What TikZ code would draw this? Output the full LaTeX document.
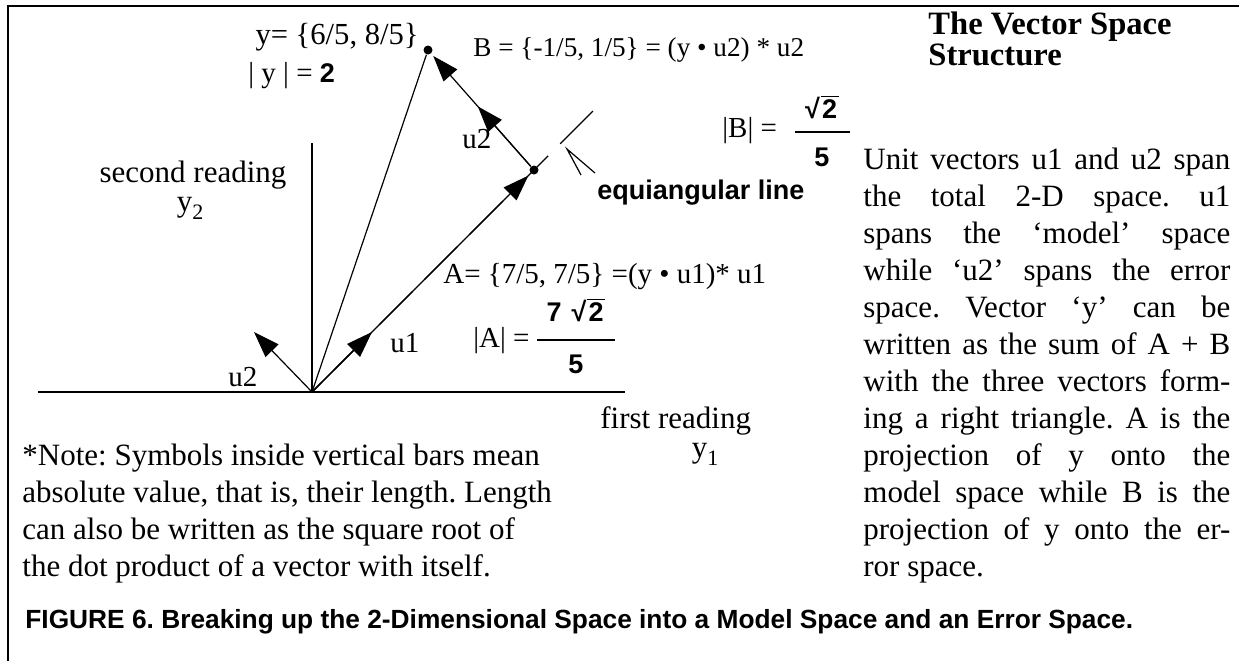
\documentclass[tikz,border=0pt]{standalone}
\usepackage{fontspec}
\setmainfont{Liberation Serif}
\setsansfont{Liberation Sans}
\usetikzlibrary{arrows.meta,calc}
\newcommand\jline[1]{\hbox to 183.5pt{#1}}
\newcommand\rtwo{√\kern0.3pt$\overline{\hbox{\kern0.8pt 2\kern0.8pt}}$}
\newcommand\sbf{\fontsize{13.5}{15}\sffamily\bfseries\selectfont}
\begin{document}
\frenchspacing
\begin{tikzpicture}[x=0.5pt,y=-0.5pt,
  lab/.style={inner sep=0pt, anchor=base west, font=\fontsize{14.5}{17}\selectfont},
  body/.style={inner sep=0pt, anchor=base west, font=\fontsize{15.5}{18.5}\selectfont},
  sbold/.style={inner sep=0pt, font=\sbf},
  vec/.style={line width=0.6pt, -{Triangle[length=13pt,width=9pt]}},
  thinline/.style={line width=0.6pt},
  axisline/.style={line width=1pt},
  frameline/.style={line width=1.2pt},
  dotnode/.style={circle, fill=black, inner sep=0pt, minimum size=4.5pt}]
\useasboundingbox (0,0) rectangle (1239,661);
% frame
\coordinate (FBL) at (8,661);
\coordinate (FTL) at (8,6);
\coordinate (FTR) at (1239,6);
\draw[frameline] (FBL) -- (FTL) -- (FTR);
% key points
\coordinate (O) at (312,392);
\node[dotnode] (Y) at (428,50) {};
\node[dotnode] (A) at (534,170) {};
\coordinate (E) at (593,111);
\coordinate (Xs) at (38,392);
\coordinate (Xe) at (625,392);
\coordinate (Yt) at (312,143);
\coordinate (U1) at (372,332);
\coordinate (U2) at (254,332);
% axes
\draw[axisline] (Xs) -- (Xe);
\draw[axisline] (Yt) -- (O);
% y vector
\draw[thinline] (O) -- (Y);
% equiangular line
\draw[thinline, dash pattern=on 23.5pt off 8.5pt, dash phase=16.5pt] (O) -- (E);
% vectors
\draw[vec, shorten >=1.5pt] (O) -- (A);
\draw[vec] (O) -- (U1);
\draw[vec] (O) -- (U2);
\draw[vec, shorten >=1.5pt] (A) -- (Y);
\draw[vec] (A) -- ($(A)!0.53!(Y)$);
% open arrow pointing at equiangular line
\coordinate (T) at (567,149);
\coordinate (Ta) at (581,175);
\coordinate (Tb) at (595,173);
\draw[thinline] (Ta) -- (T) -- (Tb);
% labels
\node[lab, anchor=base east, font=\fontsize{15.3}{17}\selectfont] (ytxt) at (419,44) {y= \{6/5, 8/5\}};
\node[lab] (ylen) at (248,82) {| y | = {\sbf 2}};
\node[lab, font=\fontsize{13.6}{16}\selectfont] (btxt) at (473,56) {B = \{-1/5, 1/5\} = (y • u2) * u2};
\node[lab] (u2m) at (462,148) {u2};
\node[lab] (blen) at (722,137) {|B| =};
\node[sbold, anchor=base] (bnum) at (822,118) {\rtwo};
\coordinate (BbL) at (795,132);
\coordinate (BbR) at (850,132);
\draw[line width=0.8pt] (BbL) -- (BbR);
\node[sbold, anchor=base] (bden) at (822,166) {5};
\node[sbold, anchor=base west] (eq) at (597,199) {equiangular line};
\node[body, anchor=base] (sr) at (193,182) {second reading};
\node[body, anchor=base] (y2) at (190,211) {y\raisebox{-4pt}{\fontsize{11}{11}\selectfont 2}};
\node[lab] (atxt) at (443,283) {A= \{7/5, 7/5\} =(y • u1)* u1};
\node[lab] (alen) at (473,347) {|A| =};
\node[sbold, anchor=base] (anum) at (576,321) {7\hspace{5pt}\rtwo};
\coordinate (AbL) at (537,340);
\coordinate (AbR) at (615,340);
\draw[line width=0.8pt] (AbL) -- (AbR);
\node[sbold, anchor=base] (aden) at (576,373) {5};
\node[lab] (u1l) at (390,352) {u1};
\node[lab] (u2l) at (228,386) {u2};
\node[body, anchor=base west] (fr) at (600,428) {first reading};
\node[body, anchor=base] (y1) at (705,457) {y\raisebox{-4pt}{\fontsize{11}{11}\selectfont 1}};
% title
\node[inner sep=0pt, anchor=base west, font=\fontsize{16.3}{16.5}\bfseries\selectfont] (title) at (928,34)
  {\vtop{\baselineskip=15.5pt\hbox{The Vector Space}\hbox{Structure}}};
% right column text
\node[body] (para) at (863,169) {\vtop{\baselineskip=18.5pt
  \jline{Unit vectors u1 and u2 span}
  \jline{the total 2-D space. u1}
  \jline{spans the ‘model’ space}
  \jline{while ‘u2’ spans the error}
  \jline{space. Vector ‘y’ can be}
  \jline{written as the sum of A + B}
  \jline{with the three vectors form-}
  \jline{ing a right triangle. A is the}
  \jline{projection of y onto the}
  \jline{model space while B is the}
  \jline{projection of y onto the er-}
  \hbox{ror space.}}};
% note
\node[body] (note) at (22,465) {\vtop{\baselineskip=18.5pt
  \hbox{*Note: Symbols inside vertical bars mean}
  \hbox{absolute value, that is, their length. Length}
  \hbox{can also be written as the square root of}
  \hbox{the dot product of a vector with itself.}}};
% caption
\node[inner sep=0pt, anchor=base west, font=\fontsize{13.15}{15}\sffamily\bfseries\selectfont] (cap) at (25,628)
  {FIGURE 6. Breaking up the 2-Dimensional Space into a Model Space and an Error Space.};
\end{tikzpicture}
\end{document}
